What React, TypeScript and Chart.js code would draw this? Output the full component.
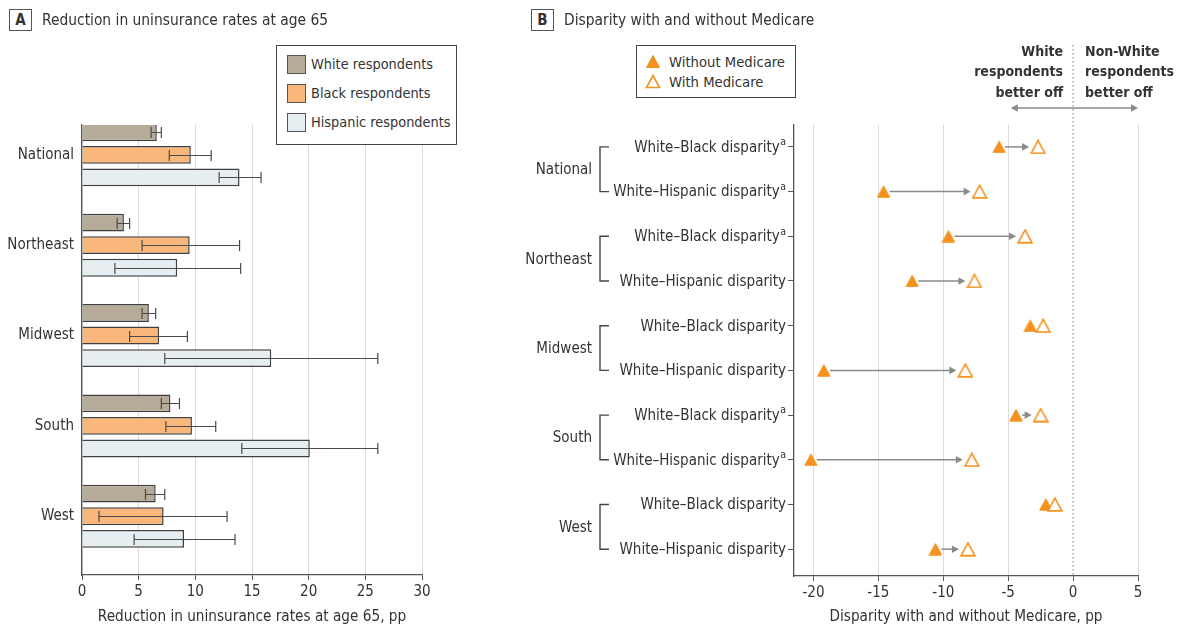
import React, { useEffect, useRef } from 'react';
import { Chart, registerables } from 'chart.js';

Chart.register(...registerables);

const FONT = "'DejaVu Sans Condensed', 'DejaVu Sans', sans-serif";
const TEXT = '#333333';
const ORANGE = '#f5921e';

// ---------- Panel A data ----------
const regions = ['National', 'Northeast', 'Midwest', 'South', 'West'];
const whiteVals = [6.6, 3.7, 5.9, 7.8, 6.5];
const whiteLow = [6.1, 3.1, 5.3, 7.0, 5.6];
const whiteHigh = [7.0, 4.2, 6.5, 8.6, 7.3];
const blackVals = [9.6, 9.5, 6.8, 9.7, 7.2];
const blackLow = [7.7, 5.3, 4.2, 7.4, 1.5];
const blackHigh = [11.4, 13.9, 9.3, 11.8, 12.8];
const hispVals = [13.9, 8.4, 16.7, 20.1, 9.0];
const hispLow = [12.1, 2.9, 7.3, 14.1, 4.6];
const hispHigh = [15.8, 14.0, 26.1, 26.1, 13.5];
const seriesNamesA = ['White respondents', 'Black respondents', 'Hispanic respondents'];
const seriesColorsA = ['#b6ab98', '#f9b77c', '#e6eef1'];

// ---------- Panel B data ----------
const disparityLabels = [
  'White–Black disparity', 'White–Hispanic disparity',
  'White–Black disparity', 'White–Hispanic disparity',
  'White–Black disparity', 'White–Hispanic disparity',
  'White–Black disparity', 'White–Hispanic disparity',
  'White–Black disparity', 'White–Hispanic disparity',
];
const disparityFootnote = [true, true, true, false, false, false, true, true, false, false];
const withoutMedicare = [-5.7, -14.6, -9.6, -12.4, -3.3, -19.2, -4.4, -20.2, -2.1, -10.6];
const withMedicare = [-2.7, -7.2, -3.7, -7.6, -2.3, -8.3, -2.5, -7.8, -1.4, -8.1];

function makeTriangle(fill: string, stroke: string, lw: number, w: number, h: number) {
  const c = document.createElement('canvas');
  c.width = w;
  c.height = h;
  const ctx = c.getContext('2d')!;
  const m = lw / 2 + 0.3;
  ctx.beginPath();
  ctx.moveTo(w / 2, m);
  ctx.lineTo(w - m, h - m);
  ctx.lineTo(m, h - m);
  ctx.closePath();
  ctx.fillStyle = fill;
  ctx.fill();
  ctx.lineWidth = lw;
  ctx.strokeStyle = stroke;
  ctx.lineJoin = 'miter';
  ctx.stroke();
  return c;
}

const errorBarPlugin = {
  id: 'errorBars',
  afterDatasetsDraw(chart: any) {
    const { ctx } = chart;
    const xs = chart.scales.x;
    const ranges = [
      [whiteLow, whiteHigh],
      [blackLow, blackHigh],
      [hispLow, hispHigh],
    ];
    ctx.save();
    ctx.strokeStyle = '#4a4a4a';
    ctx.lineWidth = 1.2;
    ranges.forEach(([lo, hi], d) => {
      const meta = chart.getDatasetMeta(d);
      meta.data.forEach((bar: any, i: number) => {
        const y = Math.round(bar.y) + 0.5;
        const x1 = xs.getPixelForValue(lo[i]);
        const x2 = xs.getPixelForValue(hi[i]);
        ctx.beginPath();
        ctx.moveTo(x1, y);
        ctx.lineTo(x2, y);
        ctx.moveTo(x1, y - 5.5);
        ctx.lineTo(x1, y + 5.5);
        ctx.moveTo(x2, y - 5.5);
        ctx.lineTo(x2, y + 5.5);
        ctx.stroke();
      });
    });
    ctx.restore();
  },
};

function drawArrowHead(ctx: any, x: number, y: number, dir: number, len: number, half: number) {
  ctx.beginPath();
  ctx.moveTo(x, y);
  ctx.lineTo(x - dir * len, y - half);
  ctx.lineTo(x - dir * len, y + half);
  ctx.closePath();
  ctx.fill();
}

const arrowsPlugin = {
  id: 'arrows',
  beforeDatasetsDraw(chart: any) {
    const { ctx } = chart;
    const xs = chart.scales.x;
    const ys = chart.scales.y;
    ctx.save();
    ctx.strokeStyle = '#8a8a8a';
    ctx.fillStyle = '#8a8a8a';
    ctx.lineWidth = 1.5;
    withoutMedicare.forEach((v, i) => {
      const xa = xs.getPixelForValue(v) + 6;
      const xb = xs.getPixelForValue(withMedicare[i]) - 9;
      const y = ys.getPixelForValue(i);
      if (xb - xa < 8) return;
      ctx.beginPath();
      ctx.moveTo(xa, y);
      ctx.lineTo(xb - 5, y);
      ctx.stroke();
      drawArrowHead(ctx, xb, y, 1, 7, 3.8);
    });
    ctx.restore();
  },
};

const labelsPluginB = {
  id: 'labelsB',
  afterDraw(chart: any) {
    const { ctx, chartArea } = chart;
    const xs = chart.scales.x;
    const ys = chart.scales.y;
    ctx.save();
    ctx.fillStyle = TEXT;
    ctx.textBaseline = 'middle';
    // row labels
    disparityLabels.forEach((lab, i) => {
      const py = ys.getPixelForValue(i);
      const xr = chartArea.left - 8;
      let x = xr;
      ctx.textAlign = 'right';
      if (disparityFootnote[i]) {
        ctx.font = `10.5px ${FONT}`;
        const sw = ctx.measureText('a').width;
        ctx.fillText('a', xr, py - 4.5);
        x = xr - sw - 0.5;
      }
      ctx.font = `15px ${FONT}`;
      ctx.fillText(lab, x, py + 1);
    });
    // region labels with brackets
    regions.forEach((r, k) => {
      const y1 = ys.getPixelForValue(2 * k);
      const y2 = ys.getPixelForValue(2 * k + 1);
      ctx.font = `15px ${FONT}`;
      ctx.textAlign = 'right';
      ctx.fillText(r, 72, (y1 + y2) / 2 + 1);
      ctx.strokeStyle = '#444';
      ctx.lineWidth = 1.4;
      ctx.beginPath();
      ctx.moveTo(89, y1);
      ctx.lineTo(80, y1);
      ctx.lineTo(80, y2);
      ctx.lineTo(89, y2);
      ctx.stroke();
    });
    // dotted zero line
    const x0 = xs.getPixelForValue(0);
    ctx.strokeStyle = '#8c8c8c';
    ctx.lineWidth = 1.2;
    ctx.setLineDash([1.5, 2.5]);
    ctx.beginPath();
    ctx.moveTo(x0, 45);
    ctx.lineTo(x0, chartArea.bottom);
    ctx.stroke();
    ctx.setLineDash([]);
    // annotation text
    ctx.font = `bold 14px ${FONT}`;
    ctx.fillStyle = TEXT;
    ctx.textAlign = 'right';
    ['White', 'respondents', 'better off'].forEach((t, j) => ctx.fillText(t, x0 - 10, 52 + j * 20.5));
    ctx.textAlign = 'left';
    ['Non-White', 'respondents', 'better off'].forEach((t, j) => ctx.fillText(t, x0 + 12, 52 + j * 20.5));
    // double arrow
    const xl = xs.getPixelForValue(-4.8);
    const xr2 = xs.getPixelForValue(5);
    const ya = 108;
    ctx.strokeStyle = '#8a8a8a';
    ctx.fillStyle = '#8a8a8a';
    ctx.lineWidth = 1.5;
    ctx.beginPath();
    ctx.moveTo(xl + 5, ya);
    ctx.lineTo(xr2 - 5, ya);
    ctx.stroke();
    drawArrowHead(ctx, xl, ya, -1, 7, 3.8);
    drawArrowHead(ctx, xr2, ya, 1, 7, 3.8);
    ctx.restore();
  },
};

function PanelA() {
  const ref = useRef<HTMLCanvasElement>(null);
  useEffect(() => {
    const vals = [whiteVals, blackVals, hispVals];
    const chart = new Chart(ref.current!, {
      type: 'bar',
      data: {
        datasets: vals.map((arr, d) => ({
          label: seriesNamesA[d],
          data: arr.map((v, i) => ({ x: v, y: i })),
          backgroundColor: seriesColorsA[d],
          borderColor: '#404040',
          borderWidth: 1.5,
          categoryPercentage: 0.75,
          barPercentage: 0.79,
        })),
      },
      options: {
        animation: false,
        responsive: false,
        indexAxis: 'y',
        layout: { padding: { top: 125, right: 58, left: 0, bottom: 0 } },
        plugins: { legend: { display: false }, tooltip: { enabled: false } },
        scales: {
          x: {
            type: 'linear',
            position: 'bottom',
            min: 0,
            max: 30,
            ticks: { stepSize: 5, includeBounds: false, color: TEXT, font: { family: FONT, size: 15 }, padding: 3 },
            grid: { color: '#dcdcdc', tickColor: '#555', tickLength: 5, lineWidth: 1 },
            border: { color: '#555', width: 1.3 },
            title: {
              display: true,
              text: 'Reduction in uninsurance rates at age 65, pp',
              color: TEXT,
              font: { family: FONT, size: 15.2 },
              padding: { top: 0, bottom: 4 },
            },
            afterFit: (s: any) => { s.height = 55; },
          },
          y: {
            type: 'linear',
            reverse: true,
            offset: false,
            min: -0.33,
            max: 4.65,
            ticks: {
              stepSize: 1,
              includeBounds: false,
              autoSkip: false,
              color: TEXT,
              font: { family: FONT, size: 15 },
              padding: 8,
              callback: (v: any) => (Number.isInteger(v) && v >= 0 && v < regions.length ? regions[v] : ''),
            },
            grid: { offset: false, drawOnChartArea: false, drawTicks: false },
            border: { color: '#555', width: 1.3 },
            afterFit: (s: any) => { s.width = 82; },
          },
        },
      } as any,
      plugins: [errorBarPlugin],
    });
    return () => chart.destroy();
  }, []);
  return <canvas ref={ref} width={480} height={630} style={{ position: 'absolute', left: 0, top: 0, width: 480, height: 630 }} />;
}

function PanelB() {
  const ref = useRef<HTMLCanvasElement>(null);
  useEffect(() => {
    const filled = makeTriangle(ORANGE, ORANGE, 1, 14, 13);
    const open = makeTriangle('#ffffff', ORANGE, 1.6, 16, 15);
    const chart = new Chart(ref.current!, {
      type: 'scatter',
      data: {
        datasets: [
          {
            label: 'With Medicare',
            data: withMedicare.map((v, i) => ({ x: v, y: i })),
            pointStyle: open as any,
            pointRadius: 8,
          },
          {
            label: 'Without Medicare',
            data: withoutMedicare.map((v, i) => ({ x: v, y: i })),
            pointStyle: filled as any,
            pointRadius: 8,
          },
        ],
      },
      options: {
        animation: false,
        responsive: false,
        layout: { padding: { top: 125, right: 39, left: 0, bottom: 0 } },
        plugins: { legend: { display: false }, tooltip: { enabled: false } },
        scales: {
          x: {
            type: 'linear',
            min: -21.5,
            max: 5,
            ticks: { stepSize: 5, includeBounds: false, color: TEXT, font: { family: FONT, size: 15 }, padding: 3 },
            grid: {
              color: (c: any) => (c.tick && c.tick.value === 0 ? 'rgba(0,0,0,0)' : '#dcdcdc'),
              tickColor: '#555',
              tickLength: 5,
            },
            border: { color: '#555', width: 1.3 },
            title: {
              display: true,
              text: 'Disparity with and without Medicare, pp',
              color: TEXT,
              font: { family: FONT, size: 15.2 },
              padding: { top: 0, bottom: 4 },
            },
            afterFit: (s: any) => { s.height = 54; },
          },
          y: {
            type: 'linear',
            reverse: true,
            min: -0.49,
            max: 9.6,
            ticks: { display: false, stepSize: 1, includeBounds: false, autoSkip: false },
            grid: { drawOnChartArea: false, tickLength: 6, tickColor: '#555' },
            border: { color: '#555', width: 1.3 },
            afterFit: (s: any) => { s.width = 274; },
          },
        },
      } as any,
      plugins: [arrowsPlugin, labelsPluginB],
    });
    return () => chart.destroy();
  }, []);
  return <canvas ref={ref} width={657} height={630} style={{ position: 'absolute', left: 520, top: 0, width: 657, height: 630 }} />;
}

const boxLetter: React.CSSProperties = {
  position: 'absolute',
  width: 23,
  height: 22,
  border: '1px solid #555',
  boxSizing: 'border-box',
  display: 'flex',
  alignItems: 'center',
  justifyContent: 'center',
  fontWeight: 'bold',
  fontSize: 15,
  background: '#fff',
};

const titleStyle: React.CSSProperties = {
  position: 'absolute',
  fontSize: 15.4,
  lineHeight: '20px',
  whiteSpace: 'nowrap',
};

function Tri({ filled }: { filled: boolean }) {
  return (
    <svg width={16} height={15} style={{ position: 'absolute', left: 0, top: 0 }}>
      <polygon
        points="8,1.5 14.5,13.5 1.5,13.5"
        fill={filled ? ORANGE : '#fff'}
        stroke={ORANGE}
        strokeWidth={filled ? 1 : 1.6}
      />
    </svg>
  );
}

export default function App() {
  return (
    <div
      style={{
        position: 'absolute',
        left: 0,
        top: 0,
        width: 1177,
        height: 630,
        background: '#fff',
        fontFamily: FONT,
        color: TEXT,
        overflow: 'hidden',
      }}
    >
      <PanelA />
      <PanelB />

      {/* Panel A header */}
      <div style={{ ...boxLetter, left: 9, top: 9 }}>A</div>
      <div style={{ ...titleStyle, left: 42, top: 10 }}>Reduction in uninsurance rates at age 65</div>

      {/* Panel A legend */}
      <div
        style={{
          position: 'absolute',
          left: 276,
          top: 45,
          width: 181,
          height: 100,
          border: '1px solid #444',
          boxSizing: 'border-box',
          background: '#fff',
        }}
      >
        {seriesNamesA.map((n, i) => (
          <div key={n} style={{ position: 'absolute', left: 10, top: 9 + i * 29, height: 19, width: 170 }}>
            <div
              style={{
                position: 'absolute',
                left: 0,
                top: 0,
                width: 19,
                height: 19,
                boxSizing: 'border-box',
                border: '1.2px solid #555',
                background: seriesColorsA[i],
              }}
            />
            <div style={{ position: 'absolute', left: 24, top: 0, fontSize: 14.4, lineHeight: '19px', whiteSpace: 'nowrap' }}>{n}</div>
          </div>
        ))}
      </div>

      {/* Panel B header */}
      <div style={{ ...boxLetter, left: 531, top: 9 }}>B</div>
      <div style={{ ...titleStyle, left: 564, top: 10 }}>Disparity with and without Medicare</div>

      {/* Panel B legend */}
      <div
        style={{
          position: 'absolute',
          left: 636,
          top: 45,
          width: 160,
          height: 53,
          border: '1px solid #444',
          boxSizing: 'border-box',
          background: '#fff',
        }}
      >
        {['Without Medicare', 'With Medicare'].map((n, i) => (
          <div key={n} style={{ position: 'absolute', left: 8, top: 8 + i * 20, height: 17, width: 150 }}>
            <Tri filled={i === 0} />
            <div style={{ position: 'absolute', left: 24, top: -1, fontSize: 14.7, lineHeight: '18px', whiteSpace: 'nowrap' }}>{n}</div>
          </div>
        ))}
      </div>
    </div>
  );
}
